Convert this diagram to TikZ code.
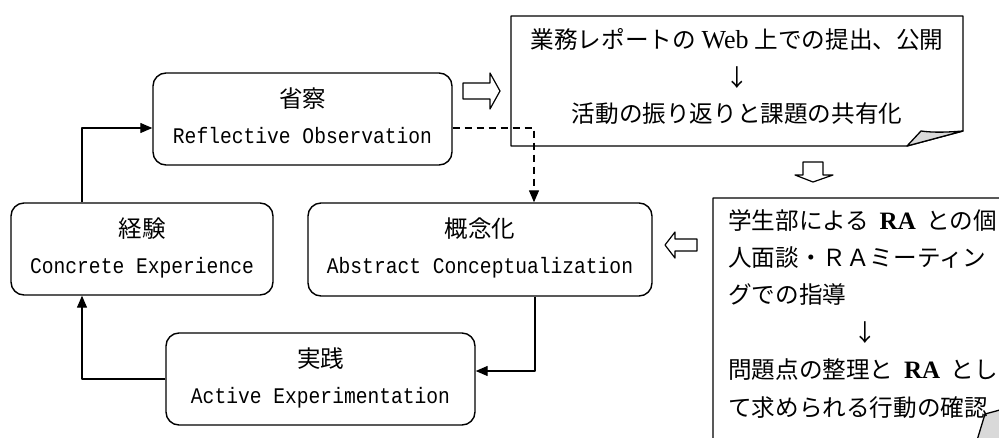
\documentclass[tikz,border=0pt]{standalone}
\usepackage{fontspec}
\setmainfont{Liberation Serif}
\setmonofont{Liberation Mono}
\newfontfamily\jp{Noto Sans CJK JP}
\newfontfamily\monoen[FakeStretch=0.88]{Liberation Mono}
\usetikzlibrary{arrows.meta}
\tikzset{
  cyc/.style={draw, rounded corners=13pt, inner sep=0pt, line width=1.4pt},
  jpt/.style={anchor=base, inner sep=0pt, font=\jp\fontsize{23.5}{28}\selectfont},
  ent/.style={anchor=base, inner sep=0pt, font=\monoen\fontsize{22.3}{24}\selectfont},
  notet/.style={anchor=base, inner sep=0pt, font=\jp\fontsize{23.6}{28}\selectfont},
  notel/.style={anchor=base west, inner sep=0pt, font=\jp\fontsize{23.6}{28}\selectfont},
  arr/.style={line width=1.3pt, -{Triangle[length=12pt,width=10pt]}},
  hollow/.style={draw, line width=1.2pt, fill=white},
  foldfill/.style={draw, line width=1.3pt, fill=gray!30, line join=round},
}
\newcommand{\lat}[1]{{\rmfamily\fontsize{26}{28}\selectfont #1}}
\newcommand{\latb}[1]{{\rmfamily\bfseries\fontsize{25}{28}\selectfont #1}}
\begin{document}
\begin{tikzpicture}[x=1pt,y=-1pt, line join=round]
\useasboundingbox (0,0) rectangle (999,437);
\clip (0,0) rectangle (999,437);
\fill[white] (0,0) rectangle (999,437);

% cycle boxes
\node[cyc, minimum width=299pt, minimum height=92pt] (ref) at (302.5,119) {};
\node[cyc, minimum width=262pt, minimum height=92pt] (con) at (142,249) {};
\node[cyc, minimum width=344pt, minimum height=93pt] (cpt) at (480,249.5) {};
\node[cyc, minimum width=309pt, minimum height=92pt] (act) at (320.5,379) {};

\node[jpt] (refj) at (302.5,107) {省察};
\node[ent] (refe) at (302.5,143) {Reflective Observation};
\node[jpt] (conj) at (142,237) {経験};
\node[ent] (cone) at (142,273) {Concrete Experience};
\node[jpt] (cptj) at (480,237) {概念化};
\node[ent] (cpte) at (480,273) {Abstract Conceptualization};
\node[jpt] (actj) at (320.5,367) {実践};
\node[ent] (acte) at (320.5,403) {Active Experimentation};

% top note
\draw[line width=1.3pt, fill=white] (511,16) -- (963,16) -- (963,131) -- (907,146) -- (511,146) -- cycle;
\draw[foldfill] (907,146) -- (921,131) .. controls (935,133) and (950,132) .. (963,131) -- cycle;
\node[notet] (n1a) at (737,48) {業務レポートの\hspace{0.25em}\lat{Web}\hspace{0.25em}上での提出、公開};
\node[notet] (n1b) at (737,86) {↓};
\node[notet] (n1c) at (737,122) {活動の振り返りと課題の共有化};

% right note
\draw[line width=1.3pt, fill=white] (713,198) -- (1040,198) -- (1040,398) -- (968,470) -- (713,470) -- cycle;
\draw[foldfill] (968,470) -- (985,414) .. controls (1000,410) .. (1040,398) -- cycle;
\node[notel] (n2a) at (728,229) {学生部による\hspace{0.45em}\latb{RA}\hspace{0.45em}との個};
\node[notel] (n2b) at (728,266.4) {人面談・ＲＡミーティン};
\node[notel] (n2c) at (728,303.8) {グでの指導};
\node[notet] (n2d) at (865,341.2) {↓};
\node[notel] (n2e) at (728,378.6) {問題点の整理と\hspace{0.45em}\latb{RA}\hspace{0.45em}とし};
\node[notel] (n2f) at (728,416) {て求められる行動の確認};

% hollow arrows
\draw[hollow] (463,83) -- (490,83) -- (490,73) -- (500,91) -- (490,109) -- (490,99) -- (463,99) -- cycle;
\draw[hollow] (803,162) -- (823,162) -- (823,175) -- (833,175) -- (813,182) -- (795,175) -- (803,175) -- cycle;
\draw[hollow] (697,239) -- (675,239) -- (675,232) -- (665,245) -- (675,258) -- (675,251) -- (697,251) -- cycle;

% connectors
\draw[arr] ([xshift=-60pt]con.north) |- ([yshift=-9pt]ref.west);
\draw[arr] (act.west) -| ([xshift=-60pt]con.south);
\draw[arr] ([xshift=55pt]cpt.south) |- ([yshift=8pt]act.east);
\draw[arr, dash pattern=on 7pt off 5pt] ([yshift=-9pt]ref.east) -| ([xshift=54pt]cpt.north);
\end{tikzpicture}
\end{document}
